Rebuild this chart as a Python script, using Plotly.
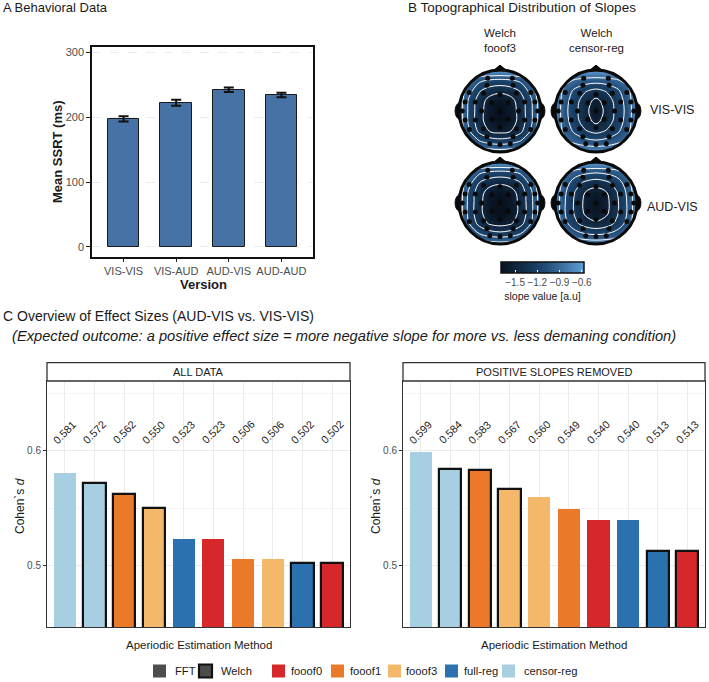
import numpy as np
import plotly.graph_objects as go

W, H = 709, 682
def px(x): return x / W
def py(y): return 1 - y / H

FONT = "Liberation Sans, Arial, sans-serif"
DARK = "#1a1a1a"
GREY = "#4d4d4d"

# ---------------- Panel A data ----------------
versions = ["VIS-VIS", "VIS-AUD", "AUD-VIS", "AUD-AUD"]
ssrt_mean = [197, 222, 242, 234]
ssrt_se = [4, 4.5, 3.5, 3.5]

# ---------------- Panel B data (slope maps, rows = posterior -> anterior) ----------------
grid_pos = [-1.0, -0.75, -0.5, -0.25, 0.0, 0.25, 0.5, 0.75, 1.0]
topo_fooof3_visvis = [
    [-0.60, -0.68, -0.74, -0.78, -0.80, -0.78, -0.74, -0.68, -0.60],
    [-0.70, -0.90, -1.08, -1.17, -1.20, -1.17, -1.08, -0.90, -0.70],
    [-0.74, -1.08, -1.35, -1.50, -1.55, -1.50, -1.35, -1.08, -0.74],
    [-0.75, -1.16, -1.42, -1.62, -1.70, -1.62, -1.42, -1.16, -0.75],
    [-0.75, -1.16, -1.42, -1.62, -1.70, -1.62, -1.42, -1.16, -0.75],
    [-0.75, -1.15, -1.40, -1.58, -1.65, -1.58, -1.40, -1.15, -0.75],
    [-0.72, -1.02, -1.28, -1.40, -1.44, -1.40, -1.28, -1.02, -0.72],
    [-0.65, -0.85, -1.05, -1.12, -1.15, -1.12, -1.05, -0.85, -0.65],
    [-0.55, -0.58, -0.60, -0.60, -0.60, -0.60, -0.60, -0.58, -0.55],
]
topo_censor_visvis = [
    [-0.58, -0.64, -0.68, -0.71, -0.72, -0.71, -0.68, -0.64, -0.58],
    [-0.68, -0.85, -0.95, -1.02, -1.05, -1.02, -0.95, -0.85, -0.68],
    [-0.70, -0.98, -1.15, -1.28, -1.35, -1.28, -1.15, -0.98, -0.70],
    [-0.72, -1.03, -1.23, -1.42, -1.55, -1.42, -1.23, -1.03, -0.72],
    [-0.72, -1.05, -1.25, -1.45, -1.62, -1.45, -1.25, -1.05, -0.72],
    [-0.72, -1.03, -1.23, -1.42, -1.55, -1.42, -1.23, -1.03, -0.72],
    [-0.70, -0.98, -1.15, -1.28, -1.35, -1.28, -1.15, -0.98, -0.70],
    [-0.62, -0.82, -0.93, -0.98, -1.00, -0.98, -0.93, -0.82, -0.62],
    [-0.52, -0.55, -0.58, -0.60, -0.60, -0.60, -0.58, -0.55, -0.52],
]
topo_fooof3_audvis = [
    [-0.60, -0.68, -0.75, -0.80, -0.82, -0.80, -0.75, -0.68, -0.60],
    [-0.70, -0.92, -1.10, -1.20, -1.24, -1.20, -1.10, -0.92, -0.70],
    [-0.74, -1.10, -1.38, -1.53, -1.58, -1.53, -1.38, -1.10, -0.74],
    [-0.76, -1.18, -1.44, -1.64, -1.72, -1.64, -1.44, -1.18, -0.76],
    [-0.76, -1.18, -1.44, -1.64, -1.72, -1.64, -1.44, -1.18, -0.76],
    [-0.75, -1.16, -1.42, -1.60, -1.67, -1.60, -1.42, -1.16, -0.75],
    [-0.72, -1.03, -1.30, -1.42, -1.46, -1.42, -1.30, -1.03, -0.72],
    [-0.65, -0.86, -1.06, -1.13, -1.16, -1.13, -1.06, -0.86, -0.65],
    [-0.55, -0.58, -0.60, -0.61, -0.61, -0.61, -0.60, -0.58, -0.55],
]
topo_censor_audvis = [
    [-0.59, -0.66, -0.71, -0.75, -0.76, -0.75, -0.71, -0.66, -0.59],
    [-0.69, -0.88, -1.02, -1.10, -1.13, -1.10, -1.02, -0.88, -0.69],
    [-0.72, -1.04, -1.26, -1.40, -1.46, -1.40, -1.26, -1.04, -0.72],
    [-0.74, -1.10, -1.34, -1.54, -1.64, -1.54, -1.34, -1.10, -0.74],
    [-0.74, -1.10, -1.35, -1.56, -1.68, -1.56, -1.35, -1.10, -0.74],
    [-0.74, -1.08, -1.32, -1.52, -1.60, -1.52, -1.32, -1.08, -0.74],
    [-0.71, -1.00, -1.22, -1.34, -1.40, -1.34, -1.22, -1.00, -0.71],
    [-0.63, -0.83, -0.99, -1.05, -1.08, -1.05, -0.99, -0.83, -0.63],
    [-0.53, -0.56, -0.59, -0.60, -0.60, -0.60, -0.59, -0.56, -0.53],
]
elec_x = [-0.30, 0.30, -0.32, 0.32,
          -0.75, -0.40, 0.00, 0.40, 0.75,
          -0.85, -0.60, -0.20, 0.20, 0.60, 0.85,
          -0.92, -0.45, 0.00, 0.45, 0.92,
          -0.85, -0.60, -0.20, 0.20, 0.60, 0.85,
          -0.75, -0.40, 0.00, 0.40, 0.75,
          -0.32, 0.32, -0.25, 0.00, 0.25]
elec_y = [0.80, 0.80, 0.63, 0.63,
          0.45, 0.43, 0.40, 0.43, 0.45,
          0.22, 0.22, 0.20, 0.20, 0.22, 0.22,
          0.00, 0.00, 0.00, 0.00, 0.00,
          -0.22, -0.22, -0.20, -0.20, -0.22, -0.22,
          -0.45, -0.43, -0.40, -0.43, -0.45,
          -0.63, -0.63, -0.80, -0.82, -0.80]
slope_ticks = [-1.5, -1.2, -0.9, -0.6]
slope_min, slope_max = -1.69, -0.57

# ---------------- Panel C data ----------------
all_method = ["censor-reg", "censor-reg", "fooof1", "fooof3", "full-reg",
              "fooof0", "fooof1", "fooof3", "full-reg", "fooof0"]
all_psd = ["FFT", "Welch", "Welch", "Welch", "FFT", "FFT", "FFT", "FFT", "Welch", "Welch"]
all_d = [0.581, 0.572, 0.562, 0.550, 0.523, 0.523, 0.506, 0.506, 0.502, 0.502]

pos_method = ["censor-reg", "censor-reg", "fooof1", "fooof3", "fooof3",
              "fooof1", "fooof0", "full-reg", "full-reg", "fooof0"]
pos_psd = ["FFT", "Welch", "Welch", "Welch", "FFT", "FFT", "FFT", "FFT", "Welch", "Welch"]
pos_d = [0.599, 0.584, 0.583, 0.567, 0.560, 0.549, 0.540, 0.540, 0.513, 0.513]

methods = ["fooof0", "fooof1", "fooof3", "full-reg", "censor-reg"]
method_colors = ["#d6282b", "#ea7a2a", "#f4b86b", "#2b71b0", "#a8cfe1"]
psd_types = ["FFT", "Welch"]
cmap = dict(zip(methods, method_colors))

fig = go.Figure()
annotations = []
shapes = []

def txt(x, y, s, size=13, anchor="center", bold=False, italic=False, angle=0, color=DARK):
    if bold:
        s = f"<b>{s}</b>"
    if italic:
        s = f"<i>{s}</i>"
    annotations.append(dict(x=px(x), y=py(y), xref="paper", yref="paper", text=s,
                            xanchor=anchor, yanchor="middle", showarrow=False,
                            textangle=angle, font=dict(size=size, color=color, family=FONT)))

# ---------------- Panel A ----------------
fig.add_trace(go.Bar(
    x=versions, y=ssrt_mean, width=0.6,
    marker=dict(color="#4672a6", line=dict(color="#1a1a1a", width=1)),
    error_y=dict(type="data", array=ssrt_se, color="#111111", thickness=2, width=5),
    xaxis="x", yaxis="y", showlegend=False))

# ---------------- Panel B ----------------
R = 41.0
half = 47.0
rng = half / R
heads = [(500, 111, topo_fooof3_visvis), (596, 111, topo_censor_visvis),
         (500, 203, topo_fooof3_audvis), (596, 203, topo_censor_audvis)]
colorscale = [[0.0, "#08121f"], [0.5, "#1d4670"], [1.0, "#5f9fd8"]]
th = np.linspace(0, 2 * np.pi, 121)
circ = "M " + " L ".join(f"{np.cos(t):.4f},{np.sin(t):.4f}" for t in th) + " Z"
sq = f"M {-rng},{-rng} L {rng},{-rng} L {rng},{rng} L {-rng},{rng} Z"
for i, (cx, cy, z) in enumerate(heads):
    n = i + 2
    xa, ya = f"x{n}", f"y{n}"
    cb = None
    if i == 0:
        cb = dict(orientation="h", x=px(542.5), xanchor="center", y=py(262), yanchor="top",
                  len=83, lenmode="pixels", thickness=11, thicknessmode="pixels",
                  outlinecolor="#111111", outlinewidth=1.5, xpad=0, ypad=0,
                  tickvals=slope_ticks, ticktext=[f"\u2212{abs(v):.1f}" for v in slope_ticks],
                  ticks="inside", tickcolor="white", ticklen=3, tickwidth=1,
                  tickfont=dict(size=10, color=GREY, family=FONT),
                  title=dict(text="slope value [a.u]", side="bottom",
                             font=dict(size=10.5, color=DARK, family=FONT)))
    fig.add_trace(go.Heatmap(x=grid_pos, y=grid_pos, z=z, zsmooth="best",
                             colorscale=colorscale, zmin=slope_min, zmax=slope_max,
                             showscale=(i == 0), colorbar=cb, xaxis=xa, yaxis=ya,
                             hoverinfo="skip"))
    fig.add_trace(go.Contour(x=grid_pos, y=grid_pos, z=z, showscale=False,
                             contours=dict(coloring="none", start=-1.5, end=-0.9, size=0.2),
                             line=dict(color="white", width=1.0, smoothing=1.0),
                             xaxis=xa, yaxis=ya, hoverinfo="skip"))
    fig.add_trace(go.Scatter(x=elec_x, y=elec_y, mode="markers",
                             marker=dict(color="#0a0a0a", size=5),
                             xaxis=xa, yaxis=ya, showlegend=False, hoverinfo="skip"))
    dom_x = [px(cx - half), px(cx + half)]
    dom_y = [py(cy + half), py(cy - half)]
    fig.update_layout(**{
        f"xaxis{n}": dict(domain=dom_x, range=[-rng, rng], visible=False, anchor=ya),
        f"yaxis{n}": dict(domain=dom_y, range=[-rng, rng], visible=False, anchor=xa),
    })
    shapes.append(dict(type="path", path=sq + " " + circ, xref=xa, yref=ya,
                       fillcolor="white", fillrule="evenodd", line=dict(width=0)))
    shapes.append(dict(type="path", xref=xa, yref=ya,
                       path="M -0.99,0.2 C -1.13,0.16 -1.13,-0.16 -0.99,-0.2 Z",
                       fillcolor="#0a0a0a", line=dict(color="#0a0a0a", width=1)))
    shapes.append(dict(type="path", xref=xa, yref=ya,
                       path="M 0.99,0.2 C 1.13,0.16 1.13,-0.16 0.99,-0.2 Z",
                       fillcolor="#0a0a0a", line=dict(color="#0a0a0a", width=1)))
    shapes.append(dict(type="path", xref=xa, yref=ya,
                       path="M -0.17,0.98 L 0,1.12 L 0.17,0.98 Z",
                       fillcolor="#0a0a0a", line=dict(color="#0a0a0a", width=1)))
    shapes.append(dict(type="circle", xref=xa, yref=ya, x0=-1, x1=1, y0=-1, y1=1,
                       line=dict(color="#0a0a0a", width=3)))

# ---------------- Panel C ----------------
panels = [(6, 47, 350, all_method, all_psd, all_d, "ALL DATA"),
          (7, 403, 705, pos_method, pos_psd, pos_d, "POSITIVE SLOPES REMOVED")]
top_px, bot_px = 381, 627
yr = [0.4467, 0.6606]
for n, x0, x1, meth, psd, dvals, strip in panels:
    xa, ya = f"x{n}", f"y{n}"
    cats = [f"{p} {m}" for p, m in zip(psd, meth)]
    fig.add_trace(go.Bar(
        x=cats, y=dvals, width=0.75,
        marker=dict(color=[cmap[m] for m in meth],
                    line=dict(color="#111111", width=[2.2 if p == "Welch" else 0 for p in psd])),
        xaxis=xa, yaxis=ya, showlegend=False))
    for c, d in zip(cats, dvals):
        annotations.append(dict(x=c, y=0.616, xref=xa, yref=ya, text=f"{d:.3f}",
                                textangle=-45, showarrow=False,
                                xanchor="center", yanchor="middle",
                                font=dict(size=10.8, color=DARK, family=FONT)))
    fig.update_layout(**{
        f"xaxis{n}": dict(domain=[px(x0), px(x1)], anchor=ya, type="category",
                          range=[-0.6, 9.6], showticklabels=False, ticks="",
                          showgrid=True, gridcolor="#ebebeb", gridwidth=0.8,
                          showline=True, mirror=True, linecolor="#333333", linewidth=1,
                          zeroline=False),
        f"yaxis{n}": dict(domain=[py(bot_px), py(top_px)], anchor=xa, range=yr,
                          tickvals=[0.5, 0.6], ticktext=["0.5", "0.6"],
                          ticks="outside", ticklen=3, tickcolor="#333333",
                          tickfont=dict(size=10, color=GREY, family=FONT),
                          showgrid=True, gridcolor="#ebebeb", gridwidth=0.8,
                          minor=dict(tickvals=[0.45, 0.55, 0.65], showgrid=True,
                                     gridcolor="#f4f4f4", gridwidth=0.6, ticks=""),
                          showline=True, mirror=True, linecolor="#333333", linewidth=1,
                          zeroline=False),
    })
    shapes.append(dict(type="rect", xref="paper", yref="paper",
                       x0=px(x0), x1=px(x1), y0=py(381), y1=py(362.7),
                       fillcolor="white", line=dict(color="#333333", width=1.3)))
    txt((x0 + x1) / 2, 372, strip, 11)
    txt(x0 - 27, 506, "Cohen`s <i>d</i>", 12, angle=-90)
    txt((x0 + x1) / 2, 645, "Aperiodic Estimation Method", 11.5)

# ---------------- Legend (manual) ----------------
leg_labels = psd_types + methods
leg_fill = ["#4d4d4d", "#4d4d4d"] + method_colors
leg_border = [0, 2.2, 0, 0, 0, 0, 0]
leg_box_x = [153, 199, 272, 331, 388, 445, 502]
leg_text_x = [173, 219, 289, 348, 404, 462, 522]
leg_y = 671
for lab, fc, bw, bx, tx in zip(leg_labels, leg_fill, leg_border, leg_box_x, leg_text_x):
    shapes.append(dict(type="rect", xref="paper", yref="paper",
                       x0=px(bx), x1=px(bx + 13), y0=py(leg_y + 6.5), y1=py(leg_y - 6.5),
                       fillcolor=fc, line=dict(color="#111111", width=bw)))
    txt(tx, leg_y, lab, 11.2, anchor="left")

# ---------------- Titles & labels ----------------
txt(1, 8, "A Behavioral Data", 13, anchor="left")
txt(406, 8, "B Topographical Distribution of Slopes", 13.5, anchor="left")
txt(1, 316, "C Overview of Effect Sizes (AUD-VIS vs. VIS-VIS)", 14, anchor="left")
txt(10, 336, "(Expected outcome: a positive effect size = more negative slope for more vs. less demaning condition)", 14.7, anchor="left", italic=True)
txt(57, 152, "Mean SSRT (ms)", 13, bold=True, angle=-90)
txt(203, 284, "Version", 13, bold=True)
txt(500, 41, "Welch<br>fooof3", 11.5)
txt(596, 41, "Welch<br>censor-reg", 11.5)
txt(672, 110, "VIS-VIS", 12.5)
txt(672, 207, "AUD-VIS", 12.5)

fig.update_layout(
    width=W, height=H, margin=dict(l=0, r=0, t=0, b=0),
    paper_bgcolor="white", plot_bgcolor="white",
    font=dict(family=FONT, color=DARK),
    showlegend=False, bargap=0,
    xaxis=dict(domain=[px(92), px(313)], anchor="y", range=[-0.6, 3.6],
               ticks="outside", ticklen=3, tickcolor="#222222",
               tickfont=dict(size=11, color=GREY, family=FONT),
               showline=True, mirror=True, linecolor="#111111", linewidth=1.5,
               showgrid=False, zeroline=False),
    yaxis=dict(domain=[py(257), py(47)], anchor="x", range=[-15.4, 307.7],
               tickvals=[0, 100, 200, 300], ticks="outside", ticklen=4, tickcolor="#222222",
               tickfont=dict(size=11, color=GREY, family=FONT),
               showline=True, mirror=True, linecolor="#111111", linewidth=1.5,
               showgrid=True, gridcolor="#ececec", gridwidth=0.8, griddash="dash",
               zeroline=False),
    shapes=shapes, annotations=annotations,
)

fig.write_html("out.html")
